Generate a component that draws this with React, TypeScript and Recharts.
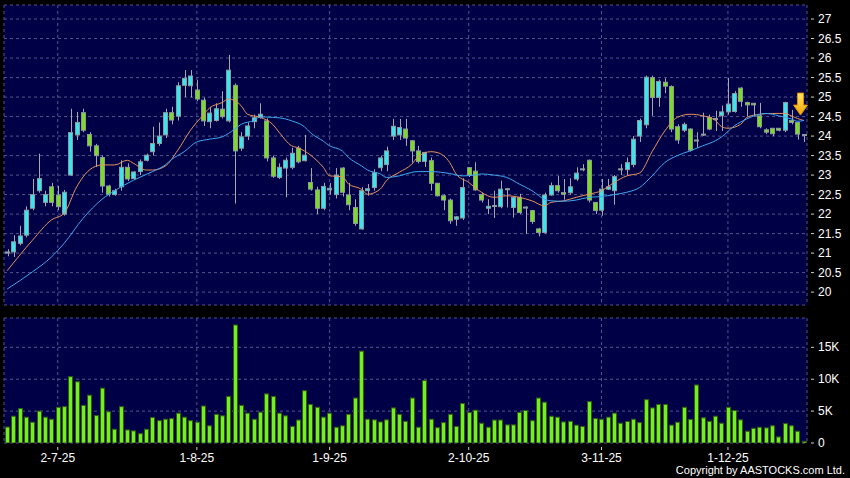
import React from 'react';
import { ComposedChart, Bar, Line, XAxis, YAxis, CartesianGrid, ReferenceDot } from 'recharts';

// ---------- DATA ----------
const opens = [21.0,21.03,21.25,21.46,22.15,22.6,22.3,22.7,22.49,22.0,23.0,24.03,24.6,24.04,23.75,23.45,22.72,22.5,22.7,23.2,22.91,23.09,23.38,23.6,23.81,24.03,24.6,24.51,25.3,25.29,25.18,24.92,24.37,24.4,24.69,24.39,25.3,23.69,24.0,24.37,24.48,24.39,23.44,22.94,23.18,23.2,23.69,23.37,22.81,22.62,22.15,22.62,22.5,23.18,22.49,22.17,21.62,22.6,22.68,23.19,23.27,24.0,24.03,24.18,23.88,23.62,23.35,23.37,22.79,22.47,22.36,21.87,21.9,23.19,23.1,22.5,22.15,22.2,22.19,22.63,22.17,22.43,22.18,22.09,21.62,21.53,22.49,22.73,22.55,22.55,22.9,23.14,23.38,22.3,22.1,22.64,22.6,23.14,23.14,23.27,24.0,24.29,25.5,24.99,25.38,25.27,24.24,24.15,24.18,23.89,24.04,24.48,24.43,24.52,24.62,24.63,25.23,24.86,24.84,24.52,24.16,24.2,24.2,24.15,24.4,24.35,24.04];
const highs = [21.1,21.46,21.7,22.2,22.9,23.55,22.6,22.8,22.72,22.62,24.7,24.62,24.7,24.1,23.8,23.5,22.75,22.65,23.38,23.3,23.1,23.4,23.55,24.24,24.35,24.7,24.75,25.38,25.69,25.69,25.44,24.99,24.75,24.84,25.15,26.08,25.35,24.1,24.35,24.55,24.84,24.45,23.5,23.3,23.45,23.7,23.75,24.03,23.18,22.7,22.8,22.8,23.18,23.2,22.8,22.38,22.69,22.77,23.15,23.5,23.73,24.44,24.44,24.44,23.9,23.75,23.6,23.45,22.8,22.5,22.4,21.95,22.92,23.2,23.33,22.55,22.38,22.6,22.86,22.66,22.45,22.52,22.2,22.1,21.65,22.55,22.81,22.98,22.9,22.92,23.2,23.28,23.4,22.3,22.9,22.9,23.0,23.28,23.45,24.0,24.45,25.55,25.55,25.45,25.48,25.3,24.3,24.35,24.2,24.1,24.6,24.55,24.65,24.78,25.49,25.15,25.25,24.88,24.85,24.85,24.2,24.2,24.2,24.88,24.67,24.37,24.05];
const lows = [20.92,20.9,21.2,21.4,22.1,22.55,22.2,22.2,22.1,21.96,22.98,23.9,24.1,23.6,23.21,22.55,22.45,22.47,22.6,22.85,22.88,23.0,23.35,23.5,23.75,23.95,24.3,24.4,25.0,24.99,24.9,24.26,24.2,24.37,24.45,24.35,22.27,23.62,23.9,24.2,24.45,23.35,22.93,22.9,22.43,23.15,23.3,23.35,22.6,22.0,22.1,22.5,22.4,22.45,22.1,21.7,21.6,22.47,22.6,23.1,23.1,23.9,23.9,23.75,23.32,23.3,23.21,22.6,22.45,22.1,21.75,21.7,21.85,22.95,22.6,22.3,22.0,21.9,22.15,22.17,21.91,22.0,21.49,21.75,21.43,21.5,22.47,22.55,22.37,22.5,22.85,23.1,22.3,22.0,21.96,22.62,22.24,23.0,23.0,23.2,23.85,24.2,24.52,24.75,25.1,24.1,23.8,24.1,23.6,23.7,24.0,24.15,24.13,24.13,24.55,24.6,24.75,24.5,24.51,24.2,24.05,24.0,24.12,24.1,24.3,23.91,23.85];
const closes = [21.03,21.29,21.44,22.1,22.5,22.91,22.5,22.3,22.19,22.56,24.09,24.35,24.15,23.75,23.5,22.72,22.51,22.6,23.2,22.9,23.08,23.34,23.51,23.81,24.0,24.6,24.41,25.29,25.48,25.54,24.95,24.39,24.59,24.7,24.5,25.69,23.62,23.98,24.26,24.47,24.56,23.44,22.97,23.2,23.38,23.56,23.34,23.51,22.64,22.15,22.71,22.66,23.0,22.56,22.24,21.76,22.6,22.65,23.06,23.44,23.62,24.25,24.22,23.95,23.62,23.35,23.58,22.79,22.47,22.36,21.83,21.93,22.68,23.0,22.62,22.36,22.2,22.22,22.64,22.65,22.43,22.04,22.16,21.81,21.53,22.49,22.73,22.6,22.51,22.7,23.05,23.16,22.36,22.09,22.64,22.7,22.96,23.16,23.32,23.92,24.4,25.51,24.99,25.4,25.28,24.18,23.9,24.3,23.64,23.9,24.05,24.18,24.45,24.62,24.82,25.09,24.89,24.8,24.8,24.24,24.1,24.06,24.15,24.86,24.35,24.05,24.03];
// volume in thousands of shares
const volumes = [2.5,4.2,5.4,4.05,3.26,5.0,4.05,3.73,5.6,5.7,10.4,9.6,5.9,7.5,4.3,8.6,4.9,2.16,5.7,2.05,1.9,1.47,2.16,4.0,3.5,3.73,3.84,4.68,4.05,3.5,3.26,5.8,2.7,4.5,4.26,7.3,18.5,5.9,4.68,3.73,4.84,7.7,7.3,4.68,4.26,2.6,3.6,8.2,6.05,5.6,4.05,4.68,2.47,2.7,4.5,7.05,14.4,3.73,3.63,3.3,3.63,5.5,4.5,3.4,7.05,2.47,9.8,3.73,2.4,3.2,4.5,2.6,6.2,4.8,5.15,3.1,2.47,3.6,3.6,2.84,2.84,4.8,5.1,3.5,7.05,6.4,4.2,4.05,3.3,3.4,2.8,2.6,6.5,3.84,3.73,4.05,4.68,3.1,3.37,3.73,3.2,6.8,5.5,6.05,6.05,2.8,3.26,5.6,3.7,9.1,3.95,3.4,4.2,3.1,5.6,5.1,3.63,1.84,2.3,2.47,2.37,2.7,0.95,3.05,2.7,1.84,0.26];
// moving-average lines: [candle index, price]
const maShortPts = [[0,20.55],[4,21.33],[7,21.85],[9,22.02],[11,22.7],[13,23.13],[15,23.26],[17,23.26],[19,23.38],[20,23.3],[22,23.13],[23,23.13],[25,23.23],[27,23.64],[29,24.15],[31,24.54],[32,24.72],[34,24.86],[35,24.95],[37,24.78],[38,24.56],[40,24.48],[42,24.3],[43,24.1],[45,23.75],[46,23.7],[47,23.62],[49,23.37],[50,23.2],[51,22.98],[53,22.96],[54,22.77],[56,22.64],[57,22.51],[59,22.64],[60,22.86],[62,23.07],[64,23.28],[65,23.47],[67,23.6],[68,23.58],[70,23.32],[71,23.03],[73,22.81],[74,22.68],[75,22.56],[77,22.43],[79,22.47],[81,22.43],[83,22.34],[85,22.21],[86,22.3],[88,22.34],[90,22.43],[92,22.51],[94,22.6],[96,22.81],[98,22.98],[100,23.05],[102,23.6],[104,24.13],[106,24.48],[108,24.56],[110,24.52],[112,24.4],[113,24.24],[114,24.2],[116,24.3],[117,24.48],[119,24.56],[121,24.58],[123,24.58],[124,24.52],[125,24.45],[126,24.4]];
const maLongPts = [[0,20.08],[4,20.52],[7,20.9],[9,21.25],[12,21.89],[15,22.38],[17,22.6],[20,22.87],[23,23.09],[25,23.26],[26,23.4],[28,23.6],[30,23.85],[32,23.92],[34,23.98],[36,24.18],[37,24.3],[39,24.4],[40,24.49],[42,24.48],[44,24.44],[45,24.39],[47,24.24],[48,24.08],[50,23.87],[51,23.75],[53,23.62],[54,23.45],[56,23.24],[57,23.13],[59,23.03],[60,22.94],[62,22.98],[64,23.07],[65,23.09],[67,23.09],[70,23.04],[72,22.98],[74,23.0],[75,23.03],[77,23.0],[79,22.94],[81,22.77],[83,22.6],[85,22.38],[86,22.34],[88,22.33],[90,22.36],[92,22.43],[94,22.45],[96,22.5],[98,22.56],[100,22.68],[102,22.98],[104,23.32],[106,23.5],[108,23.62],[110,23.75],[112,23.88],[113,23.98],[115,24.26],[117,24.44],[119,24.56],[120,24.58],[122,24.52],[124,24.44],[125,24.38],[126,24.4]];
const tickIndex = [8, 30, 51, 73, 94, 114];
const tickLabels = ['2-7-25', '1-8-25', '1-9-25', '2-10-25', '3-11-25', '1-12-25'];
const priceTicks = [20, 20.5, 21, 21.5, 22, 22.5, 23, 23.5, 24, 24.5, 25, 25.5, 26, 26.5, 27];
const volumeTicks = [0, 5, 10, 15];
const arrowAt = { idx: 125, price: 24.82 };

// ---------- TABLE ----------
const data = opens.map((o, i) => ({
  idx: i,
  open: o,
  high: highs[i],
  low: lows[i],
  close: closes[i],
  volume: volumes[i],
  maS: null as number | null,
  maL: null as number | null,
}));
maShortPts.forEach(([i, v]) => { data[i].maS = v; });
maLongPts.forEach(([i, v]) => { data[i].maL = v; });

// ---------- STYLE ----------
const NAVY = '#000046';
const GRID = '#55558c';
const CYAN = '#36e6f0';
const GREEN = '#7ade1e';
const WICK = '#a8a8a8';
const BORDER = '#8c9c9c';
const FONT = '"Liberation Sans", Arial, sans-serif';

function CandleShape(props: any) {
  const { x, y, width, height, payload } = props;
  if (!payload || width == null) return null;
  const { open, close, high, low } = payload;
  const top = Math.min(y, y + height);
  const h = Math.abs(height);
  const range = high - low;
  const k = range > 0 ? h / range : 0;
  const yOf = (v: number) => top + (high - v) * k;
  const cx = Math.round(x + width / 2) + 0.5;
  const bTop = yOf(Math.max(open, close));
  const bBot = yOf(Math.min(open, close));
  const doji = Math.abs(close - open) < 0.035;
  const fill = doji ? '#b0b0b0' : close >= open ? CYAN : GREEN;
  const bx = Math.round(x) + 0.5;
  return (
    <g>
      <line x1={cx} x2={cx} y1={top} y2={top + h} stroke={WICK} strokeWidth={1} />
      <rect x={bx} y={bTop} width={Math.max(1, Math.round(width) - 1)} height={Math.max(1, bBot - bTop)} fill={fill} stroke={BORDER} strokeWidth={1} />
    </g>
  );
}

function VolumeShape(props: any) {
  const { x, y, width, height } = props;
  if (width == null || height == null) return null;
  const top = Math.min(y, y + height);
  const h = Math.abs(height);
  return <rect x={Math.round(x) + 0.5} y={top} width={Math.max(1, Math.round(width) - 1)} height={h} fill="#72f01c" stroke="#2f5c10" strokeWidth={1} />;
}

function RightTick(props: any) {
  const { x, y, payload, fmt } = props;
  const label = fmt ? fmt(payload.value) : String(payload.value);
  return (
    <g>
      <line x1={x + 4} x2={x + 7} y1={y} y2={y} stroke="#d0d0d0" strokeWidth={1} />
      <text x={x + 11} y={y} dy={4} fill="#ffffff" fontSize={12} fontFamily={FONT} textAnchor="start">{label}</text>
    </g>
  );
}

function BottomTick(props: any) {
  const { x, y, payload } = props;
  const pos = tickIndex.indexOf(payload.value);
  const label = pos >= 0 ? tickLabels[pos] : '';
  return (
    <g>
      <line x1={x} x2={x} y1={y + 4} y2={y + 7} stroke="#d0d0d0" strokeWidth={1} />
      <text x={x} y={y + 19} fill="#ffffff" fontSize={12} fontFamily={FONT} textAnchor="middle">{label}</text>
    </g>
  );
}

function ArrowShape(props: any) {
  const { cx, cy } = props;
  if (cx == null || cy == null) return null;
  const c = cx + 3;
  const d = `M ${c - 3} ${cy - 11} L ${c + 3} ${cy - 11} L ${c + 3} ${cy + 1} L ${c + 7} ${cy + 1} L ${c} ${cy + 11} L ${c - 7} ${cy + 1} L ${c - 3} ${cy + 1} Z`;
  return (
    <g>
      <defs>
        <linearGradient id="arrowGrad" x1="0" y1="0" x2="0" y2="1">
          <stop offset="0%" stopColor="#ffe866" />
          <stop offset="100%" stopColor="#f5a400" />
        </linearGradient>
      </defs>
      <path d={d} fill="url(#arrowGrad)" stroke="#e09000" strokeWidth={1} />
    </g>
  );
}

const volFmt = (v: number) => (v === 0 ? '0' : `${v}K`);

export default function App() {
  return (
    <div style={{ position: 'absolute', left: 0, top: 0, width: 850, height: 478, background: '#000', overflow: 'hidden', fontFamily: FONT }}>
      <div style={{ position: 'absolute', left: 0, top: 0 }}>
        <ComposedChart width={850} height={310} data={data} margin={{ top: 5, right: 0, bottom: 5, left: 4 }} barSize={5}>
          <CartesianGrid stroke={GRID} strokeDasharray="3 3" fill={NAVY} fillOpacity={1} />
          <XAxis dataKey="idx" type="category" hide ticks={tickIndex} />
          <YAxis orientation="right" width={43} domain={[19.67, 27.36]} ticks={priceTicks} allowDataOverflow axisLine={false} tickLine={false} tickSize={0} tickMargin={0} tick={<RightTick />} interval={0} />
          <Bar dataKey={(d: any) => [d.low, d.high]} shape={<CandleShape />} isAnimationActive={false} />
          <Line dataKey="maS" type="monotone" stroke="#e8925a" strokeWidth={1} dot={false} activeDot={false} connectNulls isAnimationActive={false} />
          <Line dataKey="maL" type="monotone" stroke="#3fa6ee" strokeWidth={1} dot={false} activeDot={false} connectNulls isAnimationActive={false} />
          <ReferenceDot x={arrowAt.idx} y={arrowAt.price} r={0} shape={<ArrowShape />} />
        </ComposedChart>
      </div>
      <div style={{ position: 'absolute', left: 0, top: 313 }}>
        <ComposedChart width={850} height={165} data={data} margin={{ top: 5, right: 0, bottom: 0, left: 4 }} barSize={5}>
          <CartesianGrid stroke={GRID} strokeDasharray="3 3" fill={NAVY} fillOpacity={1} />
          <XAxis dataKey="idx" type="category" ticks={tickIndex} height={35} axisLine={false} tickLine={false} tickSize={0} tickMargin={0} tick={<BottomTick />} interval={0} />
          <YAxis orientation="right" width={43} domain={[0, 19.6]} ticks={volumeTicks} allowDataOverflow axisLine={false} tickLine={false} tickSize={0} tickMargin={0} tick={<RightTick fmt={volFmt} />} interval={0} />
          <Bar dataKey="volume" shape={<VolumeShape />} isAnimationActive={false} />
        </ComposedChart>
      </div>
      <div style={{ position: 'absolute', right: 5, top: 464, color: '#fff', fontSize: 11, fontFamily: FONT, whiteSpace: 'nowrap' }}>
        Copyright by AASTOCKS.com Ltd.
      </div>
    </div>
  );
}
